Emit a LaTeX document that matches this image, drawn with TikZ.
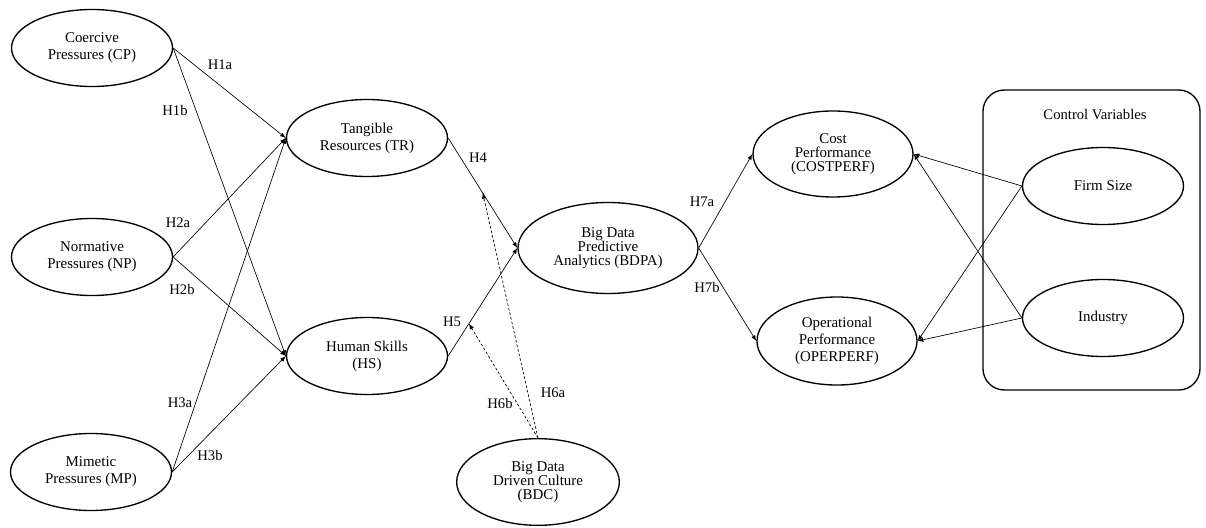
\documentclass[tikz,border=0pt]{standalone}
\usepackage{fontspec}
\setmainfont{Liberation Serif}
\usetikzlibrary{shapes}
\usetikzlibrary{calc}

\tikzset{
  construct/.style={draw, ellipse, line width=1pt, inner sep=0pt,
    minimum width=120.75pt, minimum height=57.75pt, align=center,
    font=\fontsize{11.2}{12.8}\selectfont},
  tightconstruct/.style={construct, font=\fontsize{11.2}{10.4}\selectfont},
  hyp/.style={font=\fontsize{11}{12.8}\selectfont},
  link/.style={->, line width=0.5pt},
  modlink/.style={->, line width=0.5pt, dash pattern=on 2pt off 1.5pt}
}

\begin{document}
\begin{tikzpicture}[>=latex, x=0.75pt, y=-0.75pt]

\useasboundingbox (0,0) rectangle (1206,528);

% control variables box
\draw[line width=1pt, rounded corners=16] (983,90) rectangle (1200,390);
\node[hyp] (ctrl) at (1095,115) {Control Variables};

% institutional pressures
\node[construct] (cp) at (92,48)  {Coercive\\Pressures (CP)};
\node[construct] (np) at (92,257) {Normative\\Pressures (NP)};
\node[construct] (mp) at (91,472) {Mimetic\\Pressures (MP)};

% resources
\node[construct] (tr) at (367,138) {Tangible\\Resources (TR)};
\node[construct] (hs) at (367,356) {Human Skills\\(HS)};

% BDPA and culture
\node[tightconstruct, minimum width=135pt, minimum height=68.25pt] (bdpa) at (608,248)
  {Big Data\\Predictive\\Analytics (BDPA)};
\node[tightconstruct, minimum width=122pt, minimum height=65pt] (bdc) at (538,482)
  {Big Data\\Driven Culture\\(BDC)};

% performance
\node[tightconstruct, minimum width=120pt, minimum height=64.5pt] (cost) at (833,154)
  {Cost\\Performance\\(COSTPERF)};
\node[construct, minimum width=120pt, minimum height=66pt] (oper) at (837,341)
  {Operational\\Performance\\(OPERPERF)};

% controls
\node[construct] (size) at (1103,186) {Firm Size};
\node[construct] (ind)  at (1103,318) {Industry};

% H1 - H3
\draw[link] (cp.east) -- (tr.west);
\draw[link] (cp.east) -- (hs.west);
\draw[link] (np.east) -- (tr.west);
\draw[link] (np.east) -- (hs.west);
\draw[link] (mp.east) -- (tr.west);
\draw[link] (mp.east) -- (hs.west);

% H4, H5
\draw[link] (tr.east) -- (bdpa.west);
\draw[link] (hs.east) -- (bdpa.west);

% H6 (moderation)
\coordinate (m4) at ($(tr.east)!0.5!(bdpa.west)$);
\coordinate (m5) at ($(hs.east)!0.3!(bdpa.west)$);
\draw[modlink] (bdc.north) -- (m4);
\draw[modlink] (bdc.north) -- (m5);

% H7
\draw[link] (bdpa.east) -- (cost.west);
\draw[link] (bdpa.east) -- (oper.west);

% controls
\draw[link] (size.west) -- (cost.east);
\draw[link] (size.west) -- (oper.east);
\draw[link] (ind.west) -- (cost.east);
\draw[link] (ind.west) -- (oper.east);

% hypothesis labels
\node[hyp] (h1a) at (220,65)  {H1a};
\node[hyp] (h1b) at (175,110) {H1b};
\node[hyp] (h2a) at (178,223) {H2a};
\node[hyp] (h2b) at (182,289) {H2b};
\node[hyp] (h3a) at (180,403) {H3a};
\node[hyp] (h3b) at (210,455) {H3b};
\node[hyp] (h4)  at (478,158) {H4};
\node[hyp] (h5)  at (452,322) {H5};
\node[hyp] (h6a) at (553,393) {H6a};
\node[hyp] (h6b) at (500,403) {H6b};
\node[hyp] (h7a) at (702,202) {H7a};
\node[hyp] (h7b) at (707,287) {H7b};

\end{tikzpicture}
\end{document}
